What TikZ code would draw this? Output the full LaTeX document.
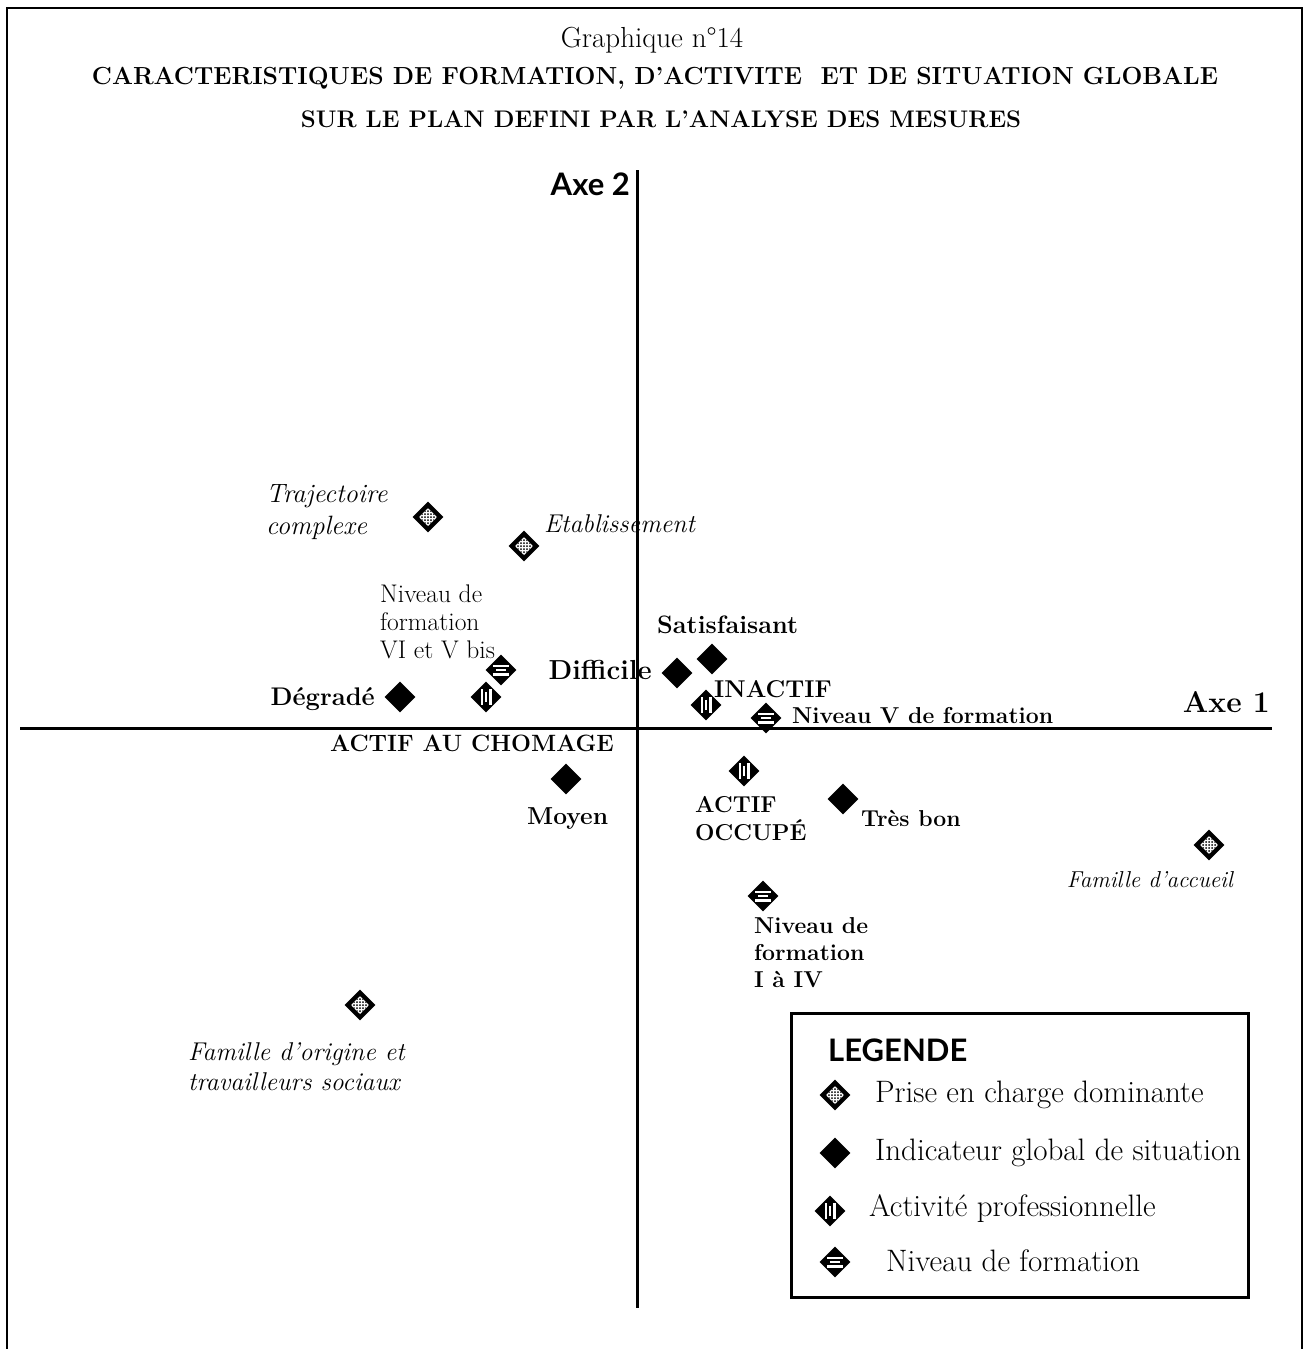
\documentclass[tikz,border=0pt]{standalone}
\usepackage{fontspec}
\newfontfamily\sansb{Lato}
\usetikzlibrary{shapes.geometric}
\newcommand{\fs}[1]{\fontsize{#1}{1.2\dimexpr #1pt\relax}\selectfont}
\begin{document}
\begin{tikzpicture}[x=1pt,y=-1pt,
  mk/.style={diamond, fill=black, inner sep=0pt, minimum size=31pt},
  mkfull/.style={mk},
  mkchk/.style={mk, path picture={
    \begin{scope}[shift={(path picture bounding box.center)}]
      \fill[white] (-9,0)--(0,9)--(9,0)--(0,-9)--cycle;
      \clip (-9,0)--(0,9)--(9,0)--(0,-9)--cycle;
      \begin{scope}[rotate=45]
        \foreach \i in {-9,-6,...,9}{\foreach \j in {-9,-6,...,9}{\fill (\i,\j) circle (1.0);}}
      \end{scope}
    \end{scope}}},
  mkvert/.style={mk, path picture={
    \begin{scope}[shift={(path picture bounding box.center)}]
      \fill[white] (-5.5,-8) rectangle (-3,8);
      \fill[white] (3,-8) rectangle (5.5,8);
      \fill[white] (-0.6,-5) rectangle (0.6,5);
    \end{scope}}},
  mkhor/.style={mk, path picture={
    \begin{scope}[shift={(path picture bounding box.center)}]
      \fill[white] (-8,-5.5) rectangle (8,-3);
      \fill[white] (-8,3) rectangle (8,5.5);
      \fill[white] (-5,-0.6) rectangle (5,0.6);
    \end{scope}}},
  lab/.style={inner sep=0pt},
  leg/.style={inner sep=0pt, anchor=west, font=\fs{31}}
]
\useasboundingbox (0,0) rectangle (1305,1349);
% outer frame
\coordinate (f1) at (7,1349);
\coordinate (f2) at (7,8);
\coordinate (f3) at (1302,8);
\coordinate (f4) at (1302,1349);
\draw[line width=1.5pt] (f1) -- (f2) -- (f3) -- (f4);

% titles
\node[inner sep=0pt, font=\fs{29}] (t0) at (652,40) {Graphique n°14};
\node[inner sep=0pt, font=\fs{24.7}\bfseries] (t1) at (655,78) {CARACTERISTIQUES DE FORMATION, D'ACTIVITE~ ET DE SITUATION GLOBALE};
\node[inner sep=0pt, font=\fs{24}\bfseries] (t2) at (661,119) {SUR LE PLAN DEFINI PAR L'ANALYSE DES MESURES};

% axes
\coordinate (ay1) at (637,170);
\coordinate (ay2) at (637,1308);
\coordinate (ax1) at (20,728);
\coordinate (ax2) at (1272,728);
\draw[line width=3pt] (ay1) -- (ay2);
\draw[line width=3pt] (ax1) -- (ax2);
\node[inner sep=0pt, anchor=east, font=\fs{31}\sansb\bfseries] (axe2) at (630,184) {Axe 2};
\node[inner sep=0pt, anchor=east, font=\fs{30}\bfseries] (axe1) at (1270,702) {Axe 1};

% markers
\node[mkchk] (m1) at (428,517) {};
\node[mkchk] (m2) at (524,546) {};
\node[mkhor] (m3) at (501,670) {};
\node[mkfull] (m4) at (400,697) {};
\node[mkvert] (m5) at (486,697) {};
\node[mkfull] (m6) at (677,673) {};
\node[mkfull] (m7) at (712,659) {};
\node[mkvert] (m8) at (706,705) {};
\node[mkhor] (m9) at (766,718) {};
\node[mkfull] (m10) at (566,779) {};
\node[mkvert] (m11) at (744,771) {};
\node[mkfull] (m12) at (843,799) {};
\node[mkchk] (m13) at (1209,845) {};
\node[mkhor] (m14) at (763,896) {};
\node[mkchk] (m15) at (360,1005) {};

% labels
\node[lab, anchor=west, align=left, font=\fontsize{26.5}{32}\selectfont\itshape] (l1) at (266,512) {Trajectoire\\complexe};
\node[lab, anchor=west, font=\fs{25.7}\itshape] (l2) at (544,524) {Etablissement};
\node[lab, anchor=west, align=left, font=\fontsize{25.5}{28}\selectfont] (l3) at (380,622) {Niveau de\\formation\\VI et V bis};
\node[lab, anchor=east, font=\fs{25.5}\bfseries] (l4) at (375,699) {Dégradé};
\node[lab, anchor=west, font=\fs{23.6}\bfseries] (l5) at (330,743) {ACTIF AU CHOMAGE};
\node[lab, anchor=east, font=\fs{27.5}\bfseries] (l6) at (652,670) {Difficile};
\node[lab, anchor=west, font=\fs{25.2}\bfseries] (l7) at (657,625) {Satisfaisant};
\node[lab, anchor=west, font=\fs{24.3}\bfseries] (l8) at (714,689) {INACTIF};
\node[lab, anchor=west, font=\fs{23}\bfseries] (l9) at (792,716) {Niveau V de formation};
\node[lab, anchor=west, font=\fs{24.5}\bfseries] (l10) at (527,819) {Moyen};
\node[lab, anchor=west, align=left, font=\fontsize{23}{28}\selectfont\bfseries] (l11) at (695,819) {ACTIF\\OCCUPÉ};
\node[lab, anchor=west, font=\fs{23}\bfseries] (l12) at (861,818) {Très bon};
\node[lab, anchor=east, font=\fs{23}\itshape] (l13) at (1233,880) {Famille d'accueil};
\node[lab, anchor=west, align=left, font=\fontsize{23}{27}\selectfont\bfseries] (l14) at (754,953) {Niveau de\\formation\\I à IV};
\node[lab, anchor=west, align=left, font=\fontsize{25.7}{30}\selectfont\itshape] (l15) at (188,1067) {Famille d'origine et\\travailleurs sociaux};

% legend
\node[draw, line width=3pt, anchor=north west, minimum width=457pt, minimum height=284pt, inner sep=0pt] (legend) at (790,1012) {};
\node[inner sep=0pt, anchor=west, font=\fs{31}\sansb\bfseries] (legt) at (828,1050) {LEGENDE};
\node[mkchk] (g1) at (835,1095) {};
\node[mkfull] (g2) at (835,1153) {};
\node[mkvert] (g3) at (830,1211) {};
\node[mkhor] (g4) at (835,1262) {};
\node[leg] (gt1) at (875,1095) {Prise en charge dominante};
\node[leg] (gt2) at (875,1153) {Indicateur global de situation};
\node[leg] (gt3) at (869,1209) {Activité professionnelle};
\node[leg] (gt4) at (886,1261) {Niveau de formation};
\end{tikzpicture}
\end{document}
